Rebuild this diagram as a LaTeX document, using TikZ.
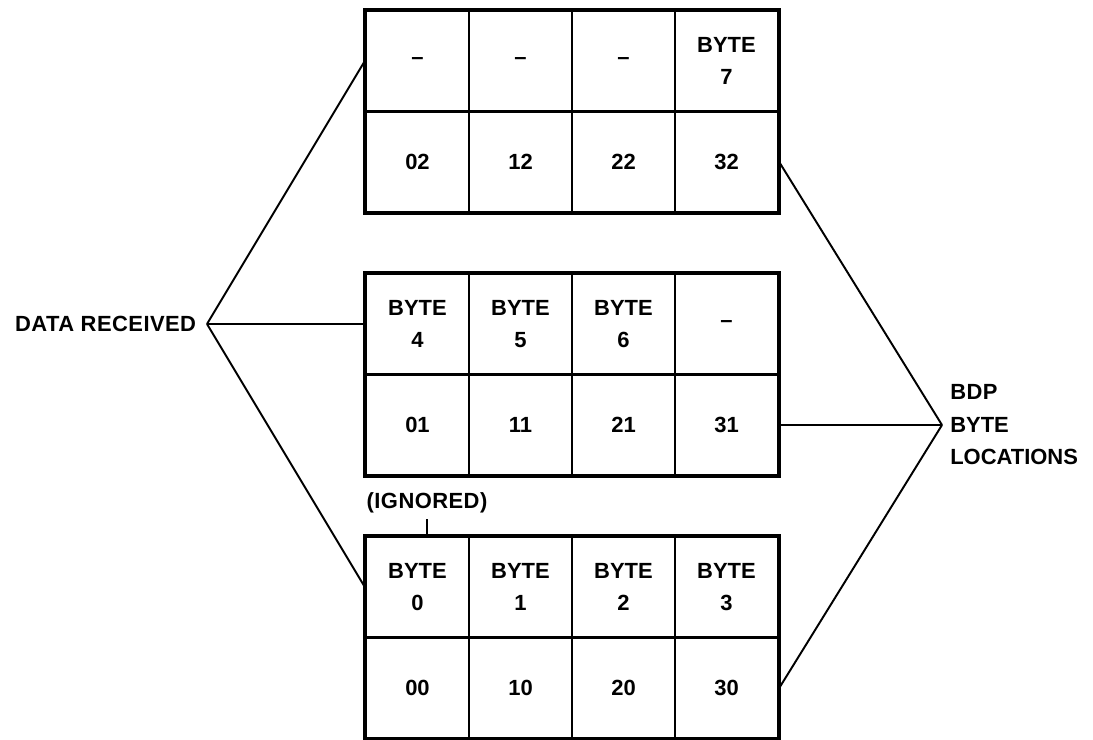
\documentclass[tikz,border=0pt]{standalone}
\usepackage{fontspec}
\setmainfont{Liberation Sans}
\usepackage{tikz}

\begin{document}
\begin{tikzpicture}[x=0.02cm, y=-0.02cm,
  every node/.style={font=\fontsize{12.5}{18.5}\selectfont\bfseries},
  cell/.style={rectangle,draw,line width=1.4pt,minimum width=2.06cm,minimum height=2.02cm,align=center,inner sep=0pt},
  frame/.style={line width=2pt},
  link/.style={line width=1.1pt}]

\useasboundingbox (0,0) rectangle (1093,740);

% Top word (BDP locations x2)
\foreach \c/\txt in {0/\textendash,1/\textendash,2/\textendash,3/{BYTE\\7}} {
  \node[cell] at (417.5+103*\c,61) (dat\c2) {\txt};
  \node[cell] at (417.5+103*\c,162) (loc\c2) {\c2};
}

% Middle word (BDP locations x1)
\foreach \c/\txt in {0/{BYTE\\4},1/{BYTE\\5},2/{BYTE\\6},3/\textendash} {
  \node[cell] at (417.5+103*\c,324) (dat\c1) {\txt};
  \node[cell] at (417.5+103*\c,425) (loc\c1) {\c1};
}

% Bottom word (BDP locations x0)
\foreach \c in {0,...,3} {
  \node[cell] at (417.5+103*\c,587) (dat\c0) {BYTE\\\c};
  \node[cell] at (417.5+103*\c,688) (loc\c0) {\c0};
}

% Word frames
\draw[frame] (dat02.north west) rectangle (loc32.south east);
\draw[frame] (dat01.north west) rectangle (loc31.south east);
\draw[frame] (dat00.north west) rectangle (loc30.south east);

% Labels
\node[anchor=east,inner xsep=6pt] at (207,324) (recv) {\addfontfeature{LetterSpace=2}DATA RECEIVED};
\node[anchor=west,align=left,inner xsep=4.5pt] at (942,425) (bdp) {\addfontfeature{LetterSpace=2}BDP\\BYTE\\LOCATIONS};
\node at (427,503) (ign) {\addfontfeature{LetterSpace=2}(IGNORED)};

% Connections
\foreach \k in {0,1,2} {
  \draw[link] (recv.east) -- (dat0\k.west);
  \draw[link] (bdp.west) -- (loc3\k.east);
}
\draw[link] (ign) -- (ign |- dat00.north);

\end{tikzpicture}
\end{document}
